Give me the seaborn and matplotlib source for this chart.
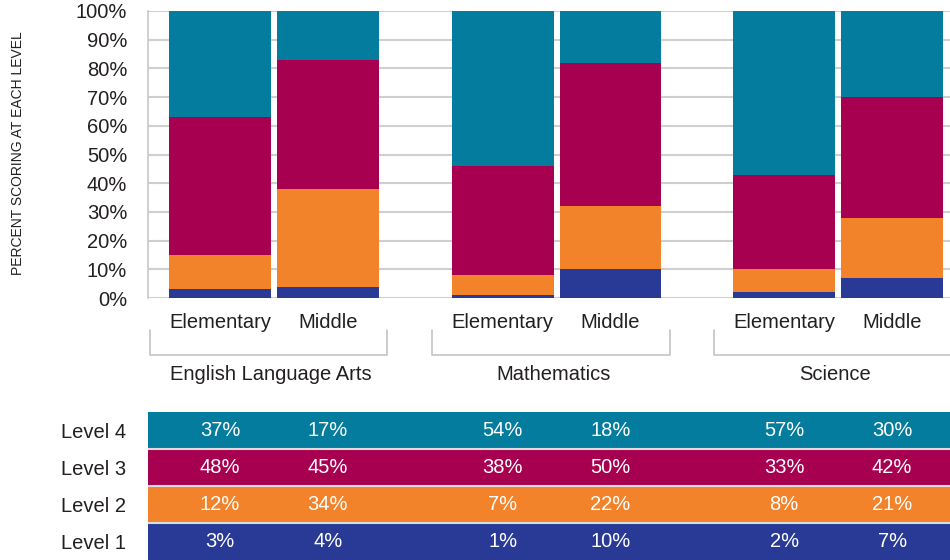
import pandas as pd
import matplotlib
matplotlib.use('Agg')
import matplotlib.pyplot as plt
import matplotlib.transforms as mtransforms
import seaborn as sns

# data
subjects = ['English Language Arts', 'Mathematics', 'Science']
grades = ['Elementary', 'Middle']
levels = ['Level 1', 'Level 2', 'Level 3', 'Level 4']
level1 = [3, 4, 1, 10, 2, 7]
level2 = [12, 34, 7, 22, 8, 21]
level3 = [48, 45, 38, 50, 33, 42]
level4 = [37, 17, 54, 18, 57, 30]
yticks = [0, 10, 20, 30, 40, 50, 60, 70, 80, 90, 100]

level_colors = ['#283a96', '#f2832b', '#a80050', '#037c9e']
text_color = '#231f20'

# bar slots: wider gap between subjects
slots = [0, 1, 2.62, 3.62, 5.23, 6.23]

df = pd.DataFrame({
    'subject': [s for s in subjects for _ in grades],
    'grade': grades * len(subjects),
    'x': slots,
    'Level 1': level1,
    'Level 2': level2,
    'Level 3': level3,
    'Level 4': level4,
})
# cumulative tops so the stacks can be drawn back to front
df['top1'] = df['Level 1']
df['top2'] = df['top1'] + df['Level 2']
df['top3'] = df['top2'] + df['Level 3']
df['top4'] = df['top3'] + df['Level 4']

sns.set_style('white')
plt.rcParams['font.family'] = ['Liberation Sans', 'DejaVu Sans']

fig = plt.figure(figsize=(9.5, 5.6), dpi=100)
ax = fig.add_axes([148 / 950, 1 - 298 / 560, 1 - 148 / 950, 287 / 560])

for col, c in zip(['top4', 'top3', 'top2', 'top1'], level_colors[::-1]):
    sns.barplot(data=df, x='x', y=col, native_scale=True, width=0.944,
                color=c, saturation=1, linewidth=0, errorbar=None, ax=ax)

xmin, xmax = -0.667, 6.767
ax.set_xlim(xmin, xmax)
ax.set_ylim(0, 100)
ax.set_yticks(yticks, [f'{v}%' for v in yticks])
ax.set_xticks(slots, grades * len(subjects))
ax.set_xlabel('')
ax.set_ylabel('')
ax.tick_params(axis='both', length=0, labelsize=14.5, colors=text_color)
ax.tick_params(axis='y', pad=15)
ax.tick_params(axis='x', pad=11)
ax.yaxis.grid(True, color='#cfcfcf', lw=1.5)
ax.set_axisbelow(True)
for side in ['top', 'right', 'bottom']:
    ax.spines[side].set_visible(False)
ax.spines['left'].set_color('#c8c8c8')
ax.spines['left'].set_linewidth(1.2)

# subject brackets and labels
trans = mtransforms.blended_transform_factory(ax.transData, ax.transAxes)
for i, subj in enumerate(subjects):
    xc = (slots[2 * i] + slots[2 * i + 1]) / 2
    x0, x1 = xc - 1.15, xc + 1.05
    ax.plot([x0, x0, x1, x1], [-0.1115, -0.1986, -0.1986, -0.1115],
            transform=trans, color='#c4c4c4', lw=1.2, clip_on=False)
    ax.text(xc - 0.03, -0.266, subj, transform=trans, ha='center', va='center',
            fontsize=14.5, color=text_color)

fig.text(18 / 950, 1 - 153 / 560, 'PERCENT SCORING AT EACH LEVEL', rotation=90,
         ha='center', va='center', fontsize=10, color=text_color)

# table of values below
tab = fig.add_axes([148 / 950, 0, 1 - 148 / 950, 148 / 560])
tab.set_xlim(xmin, xmax)
tab.set_ylim(0, 4)
values = [level1, level2, level3, level4]
for i, (lvl, c) in enumerate(zip(levels, level_colors)):
    tab.axhspan(i, i + 1, color=c, lw=0)
    for x, v in zip(slots, values[i]):
        tab.text(x, i + 0.5, f'{v}%', ha='center', va='center',
                 fontsize=14.5, color='white')
for i in range(1, 4):
    tab.axhline(i, color='#dcdcdc', lw=1.5)
tab.set_xticks([])
tab.set_yticks([0.5, 1.5, 2.5, 3.5], levels)
tab.tick_params(axis='y', length=0, labelsize=14.5, colors=text_color, pad=16)
for side in tab.spines:
    tab.spines[side].set_visible(False)

fig.savefig('out.png', dpi=100)
